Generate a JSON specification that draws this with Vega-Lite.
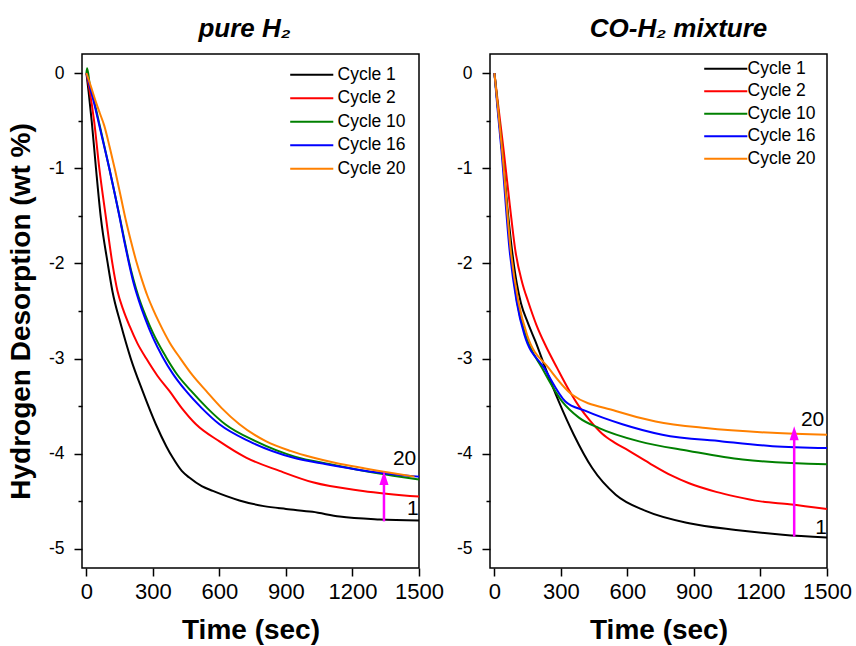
{
  "$schema": "https://vega.github.io/schema/vega-lite/v6.json",
  "autosize": {"type": "pad"},
  "padding": {"left": 6, "top": 15, "right": 5, "bottom": 5},
  "background": "white",
  "spacing": 71,
  "bounds": "flush",
  "config": {
    "view": {"stroke": "black", "strokeWidth": 1.5},
    "font": "Liberation Sans",
    "axis": {"domain": false, "grid": false, "tickColor": "black", "tickWidth": 1.5, "labelColor": "black", "titleColor": "black", "labelFont": "Liberation Sans", "titleFont": "Liberation Sans", "labelOverlap": false, "labelBound": false, "labelFlush": false}
  },
  "datasets": {
    "pure": [
      {"c":"Cycle 1","t":0,"v":0},{"c":"Cycle 1","t":10,"v":-0.2},{"c":"Cycle 1","t":24,"v":-0.51},{"c":"Cycle 1","t":43,"v":-1.0},{"c":"Cycle 1","t":65,"v":-1.52},{"c":"Cycle 1","t":96,"v":-2.0},{"c":"Cycle 1","t":117,"v":-2.29},{"c":"Cycle 1","t":155,"v":-2.64},{"c":"Cycle 1","t":200,"v":-3.0},{"c":"Cycle 1","t":253,"v":-3.34},{"c":"Cycle 1","t":313,"v":-3.69},{"c":"Cycle 1","t":360,"v":-3.92},{"c":"Cycle 1","t":389,"v":-4.04},{"c":"Cycle 1","t":430,"v":-4.18},{"c":"Cycle 1","t":464,"v":-4.25},{"c":"Cycle 1","t":520,"v":-4.34},{"c":"Cycle 1","t":570,"v":-4.39},{"c":"Cycle 1","t":690,"v":-4.49},{"c":"Cycle 1","t":800,"v":-4.55},{"c":"Cycle 1","t":900,"v":-4.58},{"c":"Cycle 1","t":1020,"v":-4.61},{"c":"Cycle 1","t":1142,"v":-4.66},{"c":"Cycle 1","t":1322,"v":-4.69},{"c":"Cycle 1","t":1500,"v":-4.7},
      {"c":"Cycle 2","t":0,"v":0},{"c":"Cycle 2","t":12,"v":-0.15},{"c":"Cycle 2","t":35,"v":-0.51},{"c":"Cycle 2","t":58,"v":-1.0},{"c":"Cycle 2","t":88,"v":-1.52},{"c":"Cycle 2","t":117,"v":-2.0},{"c":"Cycle 2","t":140,"v":-2.29},{"c":"Cycle 2","t":165,"v":-2.48},{"c":"Cycle 2","t":195,"v":-2.66},{"c":"Cycle 2","t":230,"v":-2.84},{"c":"Cycle 2","t":270,"v":-3.0},{"c":"Cycle 2","t":320,"v":-3.18},{"c":"Cycle 2","t":374,"v":-3.34},{"c":"Cycle 2","t":430,"v":-3.52},{"c":"Cycle 2","t":494,"v":-3.69},{"c":"Cycle 2","t":600,"v":-3.87},{"c":"Cycle 2","t":720,"v":-4.04},{"c":"Cycle 2","t":871,"v":-4.18},{"c":"Cycle 2","t":1021,"v":-4.3},{"c":"Cycle 2","t":1247,"v":-4.39},{"c":"Cycle 2","t":1500,"v":-4.45},
      {"c":"Cycle 10","t":0,"v":0},{"c":"Cycle 10","t":3,"v":0.05},{"c":"Cycle 10","t":15,"v":-0.12},{"c":"Cycle 10","t":35,"v":-0.3},{"c":"Cycle 10","t":55,"v":-0.5},{"c":"Cycle 10","t":80,"v":-0.76},{"c":"Cycle 10","t":103,"v":-1.0},{"c":"Cycle 10","t":127,"v":-1.26},{"c":"Cycle 10","t":150,"v":-1.51},{"c":"Cycle 10","t":170,"v":-1.74},{"c":"Cycle 10","t":190,"v":-1.96},{"c":"Cycle 10","t":212,"v":-2.17},{"c":"Cycle 10","t":235,"v":-2.35},{"c":"Cycle 10","t":265,"v":-2.54},{"c":"Cycle 10","t":300,"v":-2.73},{"c":"Cycle 10","t":358,"v":-2.98},{"c":"Cycle 10","t":410,"v":-3.17},{"c":"Cycle 10","t":472,"v":-3.34},{"c":"Cycle 10","t":545,"v":-3.52},{"c":"Cycle 10","t":626,"v":-3.69},{"c":"Cycle 10","t":765,"v":-3.87},{"c":"Cycle 10","t":940,"v":-4.03},{"c":"Cycle 10","t":1100,"v":-4.11},{"c":"Cycle 10","t":1300,"v":-4.2},{"c":"Cycle 10","t":1500,"v":-4.27},
      {"c":"Cycle 16","t":0,"v":0},{"c":"Cycle 16","t":15,"v":-0.14},{"c":"Cycle 16","t":35,"v":-0.32},{"c":"Cycle 16","t":55,"v":-0.52},{"c":"Cycle 16","t":80,"v":-0.77},{"c":"Cycle 16","t":103,"v":-1.0},{"c":"Cycle 16","t":127,"v":-1.26},{"c":"Cycle 16","t":150,"v":-1.52},{"c":"Cycle 16","t":170,"v":-1.76},{"c":"Cycle 16","t":190,"v":-1.98},{"c":"Cycle 16","t":212,"v":-2.2},{"c":"Cycle 16","t":235,"v":-2.38},{"c":"Cycle 16","t":265,"v":-2.58},{"c":"Cycle 16","t":300,"v":-2.78},{"c":"Cycle 16","t":343,"v":-2.98},{"c":"Cycle 16","t":390,"v":-3.16},{"c":"Cycle 16","t":449,"v":-3.34},{"c":"Cycle 16","t":520,"v":-3.52},{"c":"Cycle 16","t":600,"v":-3.69},{"c":"Cycle 16","t":735,"v":-3.87},{"c":"Cycle 16","t":931,"v":-4.04},{"c":"Cycle 16","t":1082,"v":-4.11},{"c":"Cycle 16","t":1262,"v":-4.18},{"c":"Cycle 16","t":1500,"v":-4.24},
      {"c":"Cycle 20","t":0,"v":0},{"c":"Cycle 20","t":20,"v":-0.14},{"c":"Cycle 20","t":42,"v":-0.3},{"c":"Cycle 20","t":60,"v":-0.42},{"c":"Cycle 20","t":80,"v":-0.55},{"c":"Cycle 20","t":105,"v":-0.78},{"c":"Cycle 20","t":130,"v":-1.03},{"c":"Cycle 20","t":155,"v":-1.3},{"c":"Cycle 20","t":178,"v":-1.55},{"c":"Cycle 20","t":200,"v":-1.76},{"c":"Cycle 20","t":225,"v":-1.98},{"c":"Cycle 20","t":250,"v":-2.17},{"c":"Cycle 20","t":275,"v":-2.34},{"c":"Cycle 20","t":300,"v":-2.48},{"c":"Cycle 20","t":330,"v":-2.63},{"c":"Cycle 20","t":375,"v":-2.83},{"c":"Cycle 20","t":424,"v":-3.0},{"c":"Cycle 20","t":480,"v":-3.18},{"c":"Cycle 20","t":540,"v":-3.34},{"c":"Cycle 20","t":610,"v":-3.52},{"c":"Cycle 20","t":690,"v":-3.69},{"c":"Cycle 20","t":811,"v":-3.87},{"c":"Cycle 20","t":920,"v":-3.97},{"c":"Cycle 20","t":1021,"v":-4.04},{"c":"Cycle 20","t":1130,"v":-4.1},{"c":"Cycle 20","t":1247,"v":-4.15},{"c":"Cycle 20","t":1370,"v":-4.2},{"c":"Cycle 20","t":1480,"v":-4.24}
    ],
    "mix": [
      {"c":"Cycle 1","t":0,"v":0},{"c":"Cycle 1","t":15,"v":-0.35},{"c":"Cycle 1","t":35,"v":-0.82},{"c":"Cycle 1","t":60,"v":-1.45},{"c":"Cycle 1","t":80,"v":-1.875},{"c":"Cycle 1","t":100,"v":-2.2},{"c":"Cycle 1","t":120,"v":-2.42},{"c":"Cycle 1","t":150,"v":-2.62},{"c":"Cycle 1","t":185,"v":-2.82},{"c":"Cycle 1","t":230,"v":-3.1},{"c":"Cycle 1","t":290,"v":-3.45},{"c":"Cycle 1","t":358,"v":-3.8},{"c":"Cycle 1","t":441,"v":-4.15},{"c":"Cycle 1","t":547,"v":-4.43},{"c":"Cycle 1","t":682,"v":-4.6},{"c":"Cycle 1","t":878,"v":-4.73},{"c":"Cycle 1","t":1089,"v":-4.8},{"c":"Cycle 1","t":1300,"v":-4.85},{"c":"Cycle 1","t":1500,"v":-4.88},
      {"c":"Cycle 2","t":0,"v":0},{"c":"Cycle 2","t":15,"v":-0.3},{"c":"Cycle 2","t":42,"v":-0.82},{"c":"Cycle 2","t":70,"v":-1.4},{"c":"Cycle 2","t":95,"v":-1.875},{"c":"Cycle 2","t":125,"v":-2.2},{"c":"Cycle 2","t":152,"v":-2.4},{"c":"Cycle 2","t":190,"v":-2.65},{"c":"Cycle 2","t":230,"v":-2.86},{"c":"Cycle 2","t":283,"v":-3.1},{"c":"Cycle 2","t":336,"v":-3.33},{"c":"Cycle 2","t":381,"v":-3.5},{"c":"Cycle 2","t":430,"v":-3.65},{"c":"Cycle 2","t":486,"v":-3.79},{"c":"Cycle 2","t":540,"v":-3.88},{"c":"Cycle 2","t":600,"v":-3.96},{"c":"Cycle 2","t":700,"v":-4.1},{"c":"Cycle 2","t":800,"v":-4.23},{"c":"Cycle 2","t":878,"v":-4.31},{"c":"Cycle 2","t":1000,"v":-4.4},{"c":"Cycle 2","t":1089,"v":-4.45},{"c":"Cycle 2","t":1200,"v":-4.5},{"c":"Cycle 2","t":1330,"v":-4.53},{"c":"Cycle 2","t":1500,"v":-4.58},
      {"c":"Cycle 10","t":0,"v":0},{"c":"Cycle 10","t":15,"v":-0.35},{"c":"Cycle 10","t":35,"v":-0.82},{"c":"Cycle 10","t":74,"v":-1.875},{"c":"Cycle 10","t":102,"v":-2.4},{"c":"Cycle 10","t":140,"v":-2.75},{"c":"Cycle 10","t":215,"v":-3.1},{"c":"Cycle 10","t":305,"v":-3.45},{"c":"Cycle 10","t":381,"v":-3.62},{"c":"Cycle 10","t":472,"v":-3.73},{"c":"Cycle 10","t":653,"v":-3.87},{"c":"Cycle 10","t":878,"v":-3.97},{"c":"Cycle 10","t":1119,"v":-4.06},{"c":"Cycle 10","t":1500,"v":-4.11},
      {"c":"Cycle 16","t":0,"v":0},{"c":"Cycle 16","t":13,"v":-0.35},{"c":"Cycle 16","t":32,"v":-0.82},{"c":"Cycle 16","t":69,"v":-1.875},{"c":"Cycle 16","t":100,"v":-2.4},{"c":"Cycle 16","t":135,"v":-2.75},{"c":"Cycle 16","t":225,"v":-3.1},{"c":"Cycle 16","t":320,"v":-3.45},{"c":"Cycle 16","t":411,"v":-3.55},{"c":"Cycle 16","t":577,"v":-3.69},{"c":"Cycle 16","t":757,"v":-3.8},{"c":"Cycle 16","t":1028,"v":-3.87},{"c":"Cycle 16","t":1254,"v":-3.92},{"c":"Cycle 16","t":1500,"v":-3.94},
      {"c":"Cycle 20","t":0,"v":0},{"c":"Cycle 20","t":15,"v":-0.35},{"c":"Cycle 20","t":35,"v":-0.82},{"c":"Cycle 20","t":74,"v":-1.875},{"c":"Cycle 20","t":108,"v":-2.4},{"c":"Cycle 20","t":147,"v":-2.75},{"c":"Cycle 20","t":245,"v":-3.1},{"c":"Cycle 20","t":351,"v":-3.38},{"c":"Cycle 20","t":547,"v":-3.55},{"c":"Cycle 20","t":727,"v":-3.66},{"c":"Cycle 20","t":953,"v":-3.73},{"c":"Cycle 20","t":1254,"v":-3.78},{"c":"Cycle 20","t":1500,"v":-3.8}
    ],
    "arrowPure": [{"t":1342,"v1":-4.71,"v2":-4.26,"tip":-4.18}],
    "arrowMix": [{"t":1352,"v1":-4.87,"v2":-3.79,"tip":-3.71}],
    "labPure": [{"t":1435,"v":-4.06,"s":"20"},{"t":1472,"v":-4.58,"s":"1"}],
    "labMix": [{"t":1435,"v":-3.64,"s":"20"},{"t":1473,"v":-4.78,"s":"1"}]
  },
  "resolve": {"scale": {"color": "independent"}},
  "hconcat": [
    {
      "width": 337, "height": 514,
      "title": {"text": "pure H₂", "font": "Liberation Sans", "fontSize": 26, "fontStyle": "italic", "fontWeight": "bold", "color": "black", "offset": 12, "dx": -6},
      "layer": [
        {
          "data": {"name": "pure"},
          "mark": {"type": "line", "strokeWidth": 2, "interpolate": "monotone"},
          "encoding": {
            "x": {"field": "t", "type": "quantitative", "scale": {"domain": [-20, 1500], "nice": false, "zero": false},
              "axis": {"title": "Time (sec)", "titleFontSize": 28, "titleFontWeight": "bold", "titlePadding": 14, "labelFontSize": 22, "labelPadding": 5,
                "values": [0,150,300,450,600,750,900,1050,1200,1350,1500],
                "labelExpr": "datum.value % 300 === 0 ? '' + datum.value : ''",
                "tickSize": {"condition": {"test": "datum.value % 300 === 0", "value": 8}, "value": 4}}},
            "y": {"field": "v", "type": "quantitative", "scale": {"domain": [-5.2, 0.2], "nice": false, "zero": false},
              "axis": {"title": "Hydrogen Desorption (wt %)", "titleFontSize": 28, "titleFontWeight": "bold", "titlePadding": 13, "labelFontSize": 17.5, "labelPadding": 10,
                "values": [0,-0.5,-1,-1.5,-2,-2.5,-3,-3.5,-4,-4.5,-5],
                "labelExpr": "datum.value % 1 === 0 ? '' + datum.value : ''",
                "tickSize": {"condition": {"test": "datum.value % 1 === 0", "value": 8}, "value": 4}}},
            "color": {"field": "c", "type": "nominal",
              "scale": {"domain": ["Cycle 1","Cycle 2","Cycle 10","Cycle 16","Cycle 20"], "range": ["#000000","#FF0000","#008000","#0000FF","#FF8000"]},
              "legend": {"orient": "none", "legendX": 221, "legendY": 12, "title": null, "padding": 0, "symbolType": "M-4,0H4", "symbolSize": 116, "symbolStrokeWidth": 2, "labelOffset": 17, "rowPadding": 4.5, "labelFontSize": 17.5, "labelFont": "Liberation Sans", "labelColor": "black"}}
          }
        },
        {
          "data": {"name": "arrowPure"},
          "mark": {"type": "rule", "color": "#FF00FF", "strokeWidth": 2.5},
          "encoding": {"x": {"field": "t", "type": "quantitative"}, "y": {"field": "v1", "type": "quantitative"}, "y2": {"field": "v2"}}
        },
        {
          "data": {"name": "arrowPure"},
          "mark": {"type": "point", "shape": "M0,0L0.65,2L-0.65,2Z", "filled": true, "fill": "#FF00FF", "strokeWidth": 0, "size": 196, "opacity": 1},
          "encoding": {"x": {"field": "t", "type": "quantitative"}, "y": {"field": "tip", "type": "quantitative"}}
        },
        {
          "data": {"name": "labPure"},
          "mark": {"type": "text", "font": "Liberation Sans", "fontSize": 21, "color": "black", "align": "center", "baseline": "middle"},
          "encoding": {"x": {"field": "t", "type": "quantitative"}, "y": {"field": "v", "type": "quantitative"}, "text": {"field": "s"}}
        }
      ]
    },
    {
      "width": 337, "height": 514,
      "title": {"text": "CO-H₂ mixture", "font": "Liberation Sans", "fontSize": 26, "fontStyle": "italic", "fontWeight": "bold", "color": "black", "offset": 12, "dx": 20},
      "layer": [
        {
          "data": {"name": "mix"},
          "mark": {"type": "line", "strokeWidth": 2, "interpolate": "monotone"},
          "encoding": {
            "x": {"field": "t", "type": "quantitative", "scale": {"domain": [-20, 1500], "nice": false, "zero": false},
              "axis": {"title": "Time (sec)", "titleFontSize": 28, "titleFontWeight": "bold", "titlePadding": 14, "labelFontSize": 22, "labelPadding": 5,
                "values": [0,150,300,450,600,750,900,1050,1200,1350,1500],
                "labelExpr": "datum.value % 300 === 0 ? '' + datum.value : ''",
                "tickSize": {"condition": {"test": "datum.value % 300 === 0", "value": 8}, "value": 4}}},
            "y": {"field": "v", "type": "quantitative", "scale": {"domain": [-5.2, 0.2], "nice": false, "zero": false},
              "axis": {"title": null, "labelFontSize": 17.5, "labelPadding": 10,
                "values": [0,-0.5,-1,-1.5,-2,-2.5,-3,-3.5,-4,-4.5,-5],
                "labelExpr": "datum.value % 1 === 0 ? '' + datum.value : ''",
                "tickSize": {"condition": {"test": "datum.value % 1 === 0", "value": 8}, "value": 4}}},
            "color": {"field": "c", "type": "nominal",
              "scale": {"domain": ["Cycle 1","Cycle 2","Cycle 10","Cycle 16","Cycle 20"], "range": ["#000000","#FF0000","#008000","#0000FF","#FF8000"]},
              "legend": {"orient": "none", "legendX": 227, "legendY": 6, "title": null, "padding": 0, "symbolType": "M-4,0H4", "symbolSize": 116, "symbolStrokeWidth": 2, "labelOffset": 13, "rowPadding": 3.5, "labelFontSize": 17.5, "labelFont": "Liberation Sans", "labelColor": "black"}}
          }
        },
        {
          "data": {"name": "arrowMix"},
          "mark": {"type": "rule", "color": "#FF00FF", "strokeWidth": 2.5},
          "encoding": {"x": {"field": "t", "type": "quantitative"}, "y": {"field": "v1", "type": "quantitative"}, "y2": {"field": "v2"}}
        },
        {
          "data": {"name": "arrowMix"},
          "mark": {"type": "point", "shape": "M0,0L0.65,2L-0.65,2Z", "filled": true, "fill": "#FF00FF", "strokeWidth": 0, "size": 196, "opacity": 1},
          "encoding": {"x": {"field": "t", "type": "quantitative"}, "y": {"field": "tip", "type": "quantitative"}}
        },
        {
          "data": {"name": "labMix"},
          "mark": {"type": "text", "font": "Liberation Sans", "fontSize": 21, "color": "black", "align": "center", "baseline": "middle"},
          "encoding": {"x": {"field": "t", "type": "quantitative"}, "y": {"field": "v", "type": "quantitative"}, "text": {"field": "s"}}
        }
      ]
    }
  ]
}
